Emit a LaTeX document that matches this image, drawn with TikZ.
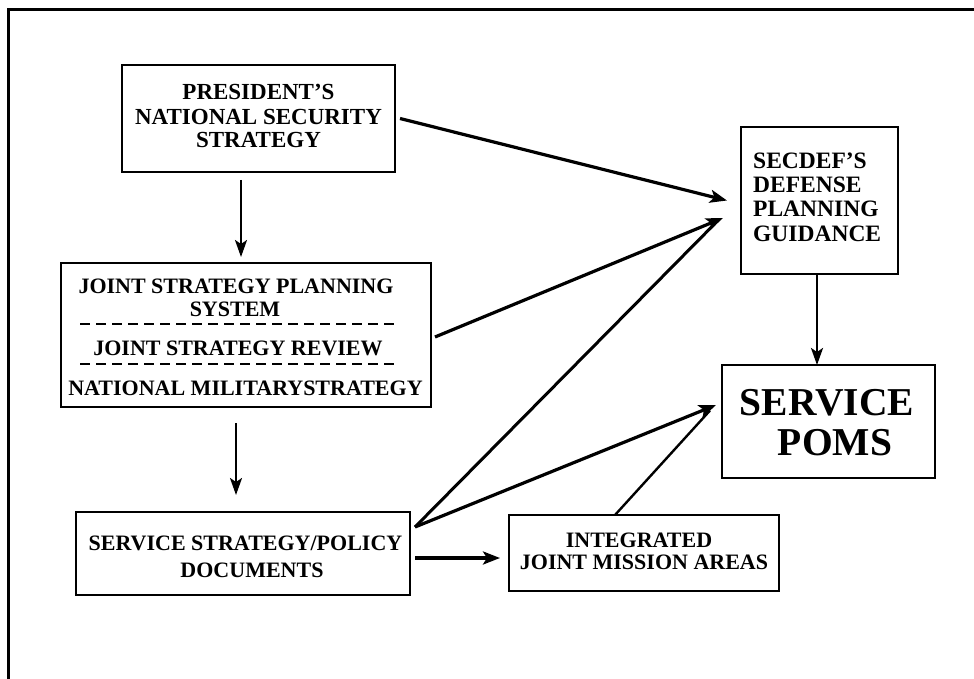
\documentclass[tikz,border=0pt]{standalone}
\usepackage{fontspec}
\setmainfont{Liberation Serif}
\usetikzlibrary{arrows.meta}
\begin{document}
\begin{tikzpicture}[x=1pt,y=-1pt,
  box/.style={draw, line width=1.4pt, inner sep=0pt, outer sep=0pt, rectangle},
  txt/.style={inner sep=0pt, anchor=base, font=\fontsize{22}{22}\selectfont\bfseries},
  txtl/.style={inner sep=0pt, anchor=base west, font=\fontsize{23.5}{23.5}\selectfont\bfseries},
  big/.style={inner sep=0pt, anchor=base, font=\fontsize{39.5}{39.5}\selectfont\bfseries},
  arr/.style={-{Stealth[length=17pt,width=13pt,inset=4pt]}, line width=3.2pt},
  varr/.style={-{Stealth[length=17pt,width=12pt,inset=4pt]}, line width=2.3pt},
  plain/.style={line width=3pt},
  sep/.style={line width=1.1pt, dash pattern=on 10pt off 6pt}]
\useasboundingbox (0,0) rectangle (974,679);
% outer frame (cropped: only top and left sides visible)
\draw[line width=3pt] (8,679) -- (8,10) -- (974,10);

% boxes
\node[box, minimum width=273pt, minimum height=107pt] (pres) at (258.5,118.5) {};
\node[box, minimum width=370pt, minimum height=144pt] (jsps) at (246,335) {};
\node[box, minimum width=334pt, minimum height=83pt] (sspd) at (243,553.5) {};
\node[box, minimum width=270pt, minimum height=76pt] (ijma) at (644,553) {};
\node[box, minimum width=157pt, minimum height=147pt] (secdef) at (819.5,200.5) {};
\node[box, minimum width=213pt, minimum height=113pt] (poms) at (828.5,421.5) {};

% texts
\node[txt, font=\fontsize{23}{23}\selectfont\bfseries] (pres1) at (258.5,100) {PRESIDENT’S};
\node[txt, font=\fontsize{23}{23}\selectfont\bfseries] (pres2) at (258.5,125) {NATIONAL SECURITY};
\node[txt, font=\fontsize{23}{23}\selectfont\bfseries] (pres3) at (258.5,148) {STRATEGY};

\node[txt] (jsps1) at (236,293) {JOINT STRATEGY PLANNING};
\node[txt] (jsps2) at (235,316) {SYSTEM};
\node[txt] (jsps3) at (238,355) {JOINT STRATEGY REVIEW};
\node[txt] (jsps4) at (245.5,395) {NATIONAL MILITARYSTRATEGY};
\coordinate (d1a) at (80,324);
\coordinate (d1b) at (398,324);
\coordinate (d2a) at (80,364);
\coordinate (d2b) at (398,364);
\draw[sep] (d1a) -- (d1b);
\draw[sep] (d2a) -- (d2b);

\node[txt] (sspd1) at (245.5,550) {SERVICE STRATEGY/POLICY};
\node[txt] (sspd2) at (252,577) {DOCUMENTS};

\node[txt] (ijma1) at (639,547) {INTEGRATED};
\node[txt] (ijma2) at (644,569) {JOINT MISSION AREAS};

\node[txtl] (sec1) at (753,169) {SECDEF’S};
\node[txtl] (sec2) at (753,193) {DEFENSE};
\node[txtl] (sec3) at (753,216.5) {PLANNING};
\node[txtl] (sec4) at (753,241) {GUIDANCE};

\node[big] (poms1) at (827,415) {SERVICE};
\node[big] (poms2) at (835,455) {POMS};

% connectors
\draw[arr] ([xshift=5pt]pres.east) -- ([xshift=-14pt]secdef.west);
\draw[varr] ([xshift=-17.5pt,yshift=-8pt]pres.south) -- ([xshift=-5pt,yshift=6pt]jsps.north);
\draw[arr] ([xshift=4pt,yshift=-2pt]jsps.east) -- ([xshift=-18pt,yshift=-17.5pt]secdef.west);
\draw[varr] ([xshift=-10pt,yshift=-16pt]jsps.south) -- ([xshift=-7pt,yshift=17pt]sspd.north);
\draw[plain] ([xshift=5pt,yshift=26.5pt]sspd.east) -- ([xshift=-26pt,yshift=-23pt]secdef.west);
\draw[arr] ([xshift=5pt,yshift=26.5pt]sspd.east) -- ([xshift=-6pt,yshift=16.5pt]poms.west);
\draw[line width=2.4pt] ([xshift=-29pt]ijma.north) -- ([xshift=-12pt,yshift=11pt]poms.west);
\draw[arr, line width=3.6pt] ([xshift=5pt,yshift=-4.5pt]sspd.east) -- ([xshift=-9pt,yshift=-5pt]ijma.west);
\draw[varr, line width=2.6pt] ([xshift=-2.5pt]secdef.south) -- ([xshift=-11.5pt]poms.north);
\end{tikzpicture}
\end{document}
